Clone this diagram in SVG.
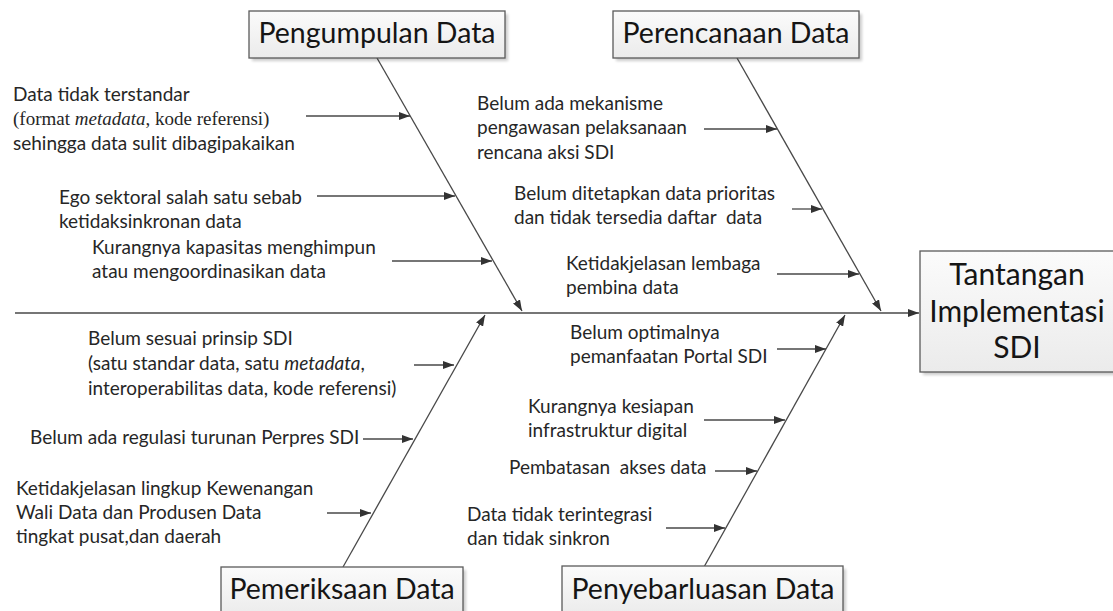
<svg xmlns="http://www.w3.org/2000/svg" width="1113" height="611" viewBox="0 0 1113 611">
  <style>
    .box { fill: url(#boxFill); stroke: #5a5a5a; stroke-width: 1.3; }
    .shadow { fill: #000; opacity: 0.2; filter: url(#soft); }
    .title { font-family: Lato, "Open Sans", sans-serif; font-size: 28.5px; fill: #151515; text-anchor: middle; }
    .big { font-size: 30px; }
    .lbl { font-family: Lato, "Open Sans", sans-serif; font-size: 19px; fill: #262626; white-space: pre; }
    .serif { font-family: "Liberation Serif", serif; font-size: 19px; fill: #262626; }
    .line { stroke: #484848; stroke-width: 1.3; fill: none; marker-end: url(#head); }
  </style>
  <defs>
    <linearGradient id="boxFill" x1="0" y1="0" x2="0" y2="1">
      <stop offset="0" stop-color="#fbfbfb"/>
      <stop offset="1" stop-color="#ebebeb"/>
    </linearGradient>
    <filter id="soft" x="-10%" y="-10%" width="120%" height="130%">
      <feGaussianBlur stdDeviation="1.5"/>
    </filter>
    <marker id="head" markerWidth="11" markerHeight="8" refX="11" refY="4" orient="auto" markerUnits="userSpaceOnUse">
      <path d="M0,0 L11,4 L0,8 Z" fill="#333"/>
    </marker>
  </defs>

  <rect width="1113" height="611" fill="#fff"/>

  <!-- connectors: spine, category bones and cause arrows -->
  <g id="connectors">
    <line class="line" x1="15" y1="313" x2="919" y2="313"/>
    <line class="line" x1="377" y1="58" x2="522" y2="311"/>
    <line class="line" x1="737" y1="58" x2="881" y2="311"/>
    <line class="line" x1="343" y1="567" x2="485" y2="315"/>
    <line class="line" x1="704" y1="567" x2="845" y2="315"/>

    <line class="line" x1="306" y1="116" x2="410" y2="116"/>
    <line class="line" x1="317" y1="196" x2="455" y2="196"/>
    <line class="line" x1="392" y1="261" x2="492" y2="261"/>

    <line class="line" x1="704" y1="129" x2="777" y2="129"/>
    <line class="line" x1="792" y1="209" x2="822" y2="209"/>
    <line class="line" x1="777" y1="274" x2="859" y2="274"/>

    <line class="line" x1="414" y1="365" x2="454" y2="365"/>
    <line class="line" x1="363" y1="439" x2="413" y2="439"/>
    <line class="line" x1="327" y1="513" x2="371" y2="513"/>

    <line class="line" x1="777" y1="349" x2="826" y2="349"/>
    <line class="line" x1="704" y1="420" x2="785" y2="420"/>
    <line class="line" x1="715" y1="471" x2="757" y2="471"/>
    <line class="line" x1="666" y1="528" x2="725" y2="528"/>
  </g>

  <g id="pengumpulan">
    <rect class="shadow" x="252" y="14" width="256" height="47"/>
    <rect class="box" x="249" y="11" width="256" height="47"/>
    <text class="title" x="377" y="43">Pengumpulan Data</text>
  </g>

  <g id="perencanaan">
    <rect class="shadow" x="616" y="14" width="246" height="47"/>
    <rect class="box" x="613" y="11" width="246" height="47"/>
    <text class="title" x="736" y="43">Perencanaan Data</text>
  </g>

  <g id="pemeriksaan">
    <rect class="shadow" x="224" y="570" width="242" height="50"/>
    <rect class="box" x="221" y="567" width="242" height="50"/>
    <text class="title" x="342" y="599">Pemeriksaan Data</text>
  </g>

  <g id="penyebarluasan">
    <rect class="shadow" x="565" y="569" width="281" height="50"/>
    <rect class="box" x="562" y="566" width="281" height="50"/>
    <text class="title" x="703" y="599">Penyebarluasan Data</text>
  </g>

  <g id="tantangan">
    <rect class="shadow" x="923" y="254" width="194" height="121"/>
    <rect class="box" x="920" y="251" width="194" height="121"/>
    <text class="title big" x="1017" y="285">Tantangan</text>
    <text class="title big" x="1017" y="322">Implementasi</text>
    <text class="title big" x="1017" y="358">SDI</text>
  </g>

  <!-- causes under Pengumpulan Data -->
  <g id="cause-p1">
    <text class="lbl" x="13" y="101">Data tidak terstandar</text>
    <text class="serif" x="13" y="125">(format <tspan font-style="italic">metadata</tspan>, kode referensi)</text>
    <text class="lbl" x="13" y="150">sehingga data sulit dibagipakaikan</text>
  </g>
  <g id="cause-p2">
    <text class="lbl" x="59" y="204">Ego sektoral salah satu sebab</text>
    <text class="lbl" x="59" y="228">ketidaksinkronan data</text>
  </g>
  <g id="cause-p3">
    <text class="lbl" x="92" y="254">Kurangnya kapasitas menghimpun</text>
    <text class="lbl" x="92" y="278">atau mengoordinasikan data</text>
  </g>

  <!-- causes under Perencanaan Data -->
  <g id="cause-r1">
    <text class="lbl" x="477" y="110">Belum ada mekanisme</text>
    <text class="lbl" x="477" y="134">pengawasan pelaksanaan</text>
    <text class="lbl" x="477" y="159">rencana aksi SDI</text>
  </g>
  <g id="cause-r2">
    <text class="lbl" x="514" y="200">Belum ditetapkan data prioritas</text>
    <text class="lbl" x="514" y="224">dan tidak tersedia daftar  data</text>
  </g>
  <g id="cause-r3">
    <text class="lbl" x="566" y="270">Ketidakjelasan lembaga</text>
    <text class="lbl" x="566" y="294">pembina data</text>
  </g>

  <!-- causes under Pemeriksaan Data -->
  <g id="cause-m1">
    <text class="lbl" x="88" y="345">Belum sesuai prinsip SDI</text>
    <text class="lbl" x="88" y="370">(satu standar data, satu <tspan font-style="italic">metadata</tspan>,</text>
    <text class="lbl" x="88" y="395">interoperabilitas data, kode referensi)</text>
  </g>
  <g id="cause-m2">
    <text class="lbl" x="30" y="444">Belum ada regulasi turunan Perpres SDI</text>
  </g>
  <g id="cause-m3">
    <text class="lbl" x="16" y="495">Ketidakjelasan lingkup Kewenangan</text>
    <text class="lbl" x="16" y="519">Wali Data dan Produsen Data</text>
    <text class="lbl" x="16" y="543">tingkat pusat,dan daerah</text>
  </g>

  <!-- causes under Penyebarluasan Data -->
  <g id="cause-s1">
    <text class="lbl" x="570" y="339">Belum optimalnya</text>
    <text class="lbl" x="570" y="363">pemanfaatan Portal SDI</text>
  </g>
  <g id="cause-s2">
    <text class="lbl" x="528" y="413">Kurangnya kesiapan</text>
    <text class="lbl" x="528" y="437">infrastruktur digital</text>
  </g>
  <g id="cause-s3">
    <text class="lbl" x="509" y="474">Pembatasan  akses data</text>
  </g>
  <g id="cause-s4">
    <text class="lbl" x="467" y="521">Data tidak terintegrasi</text>
    <text class="lbl" x="467" y="545">dan tidak sinkron</text>
  </g>
</svg>
